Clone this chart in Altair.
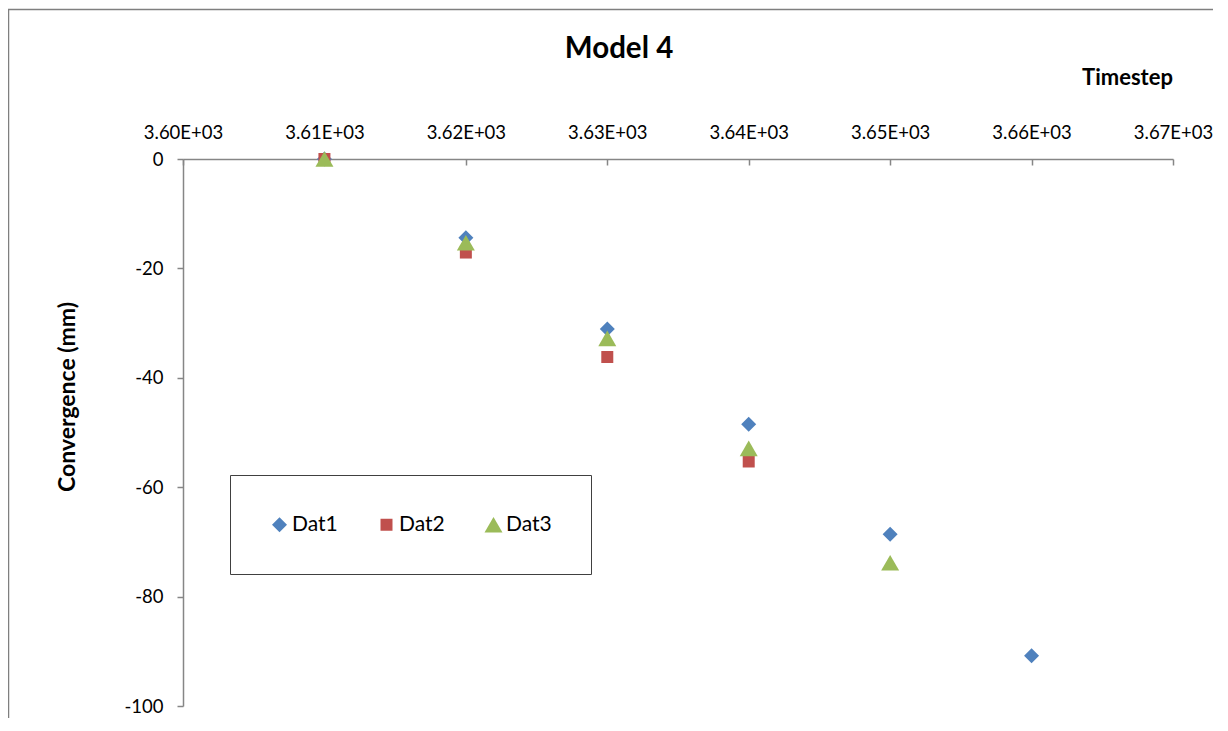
import altair as alt
import pandas as pd

# ---- data ----
timesteps = [3610, 3620, 3630, 3640, 3650, 3660]
dat1 = [0.0, -14.4, -31.1, -48.5, -68.6, -90.8]
dat2 = [0.0, -17.1, -36.2, -55.3]
dat3 = [0.0, -15.3, -32.8, -52.9, -73.8]

series_names = ["Dat1", "Dat2", "Dat3"]
series_colors = ["#4F81BD", "#C0504D", "#9BBB59"]
series_shapes = ["diamond", "square", "triangle-up"]
series_sizes = [225, 144, 324]

x_ticks = [3600, 3610, 3620, 3630, 3640, 3650, 3660, 3670]
y_ticks = [0, -20, -40, -60, -80, -100]

rows = []
for name, vals in zip(series_names, [dat1, dat2, dat3]):
    for t, v in zip(timesteps, vals):
        rows.append({"series": name, "timestep": t, "value": v})
df = pd.DataFrame(rows)

FONT = "Lato"
AXIS_GRAY = "#868686"
W, H = 990, 547

x_scale = alt.Scale(domain=[3600, 3670], nice=False, zero=False)
y_scale = alt.Scale(domain=[-100, 0], nice=False, zero=False)
x_label_expr = "format(datum.value / 1000, '.2f') + 'E+03'"
y_label_expr = "'' + datum.value"

points = alt.Chart(df).mark_point(filled=True, opacity=1).encode(
    x=alt.X("timestep:Q", scale=x_scale,
            axis=alt.Axis(orient="top", values=x_ticks, labelExpr=x_label_expr,
                          grid=False, ticks=False, tickSize=0, labelPadding=17,
                          labelFlush=False, labelOverlap=False,
                          domainColor=AXIS_GRAY, domainWidth=1.5,
                          labelFont=FONT, labelFontSize=18.5, labelColor="#000000",
                          title="Timestep", titleFont=FONT, titleFontSize=22,
                          titleFontWeight="bold", titleColor="#000000",
                          titleX=944, titleY=-82, titleAlign="center",
                          titleBaseline="middle", titleAngle=0)),
    y=alt.Y("value:Q", scale=y_scale,
            axis=alt.Axis(orient="left", values=y_ticks, labelExpr=y_label_expr,
                          grid=False, tickSize=6,
                          labelPadding=14, labelFlush=False, labelOverlap=False,
                          tickColor=AXIS_GRAY, tickWidth=1.5,
                          domainColor=AXIS_GRAY, domainWidth=1.5,
                          labelFont=FONT, labelFontSize=18.5, labelColor="#000000",
                          title="Convergence (mm)", titleFont=FONT, titleFontSize=23,
                          titleFontWeight="bold", titleColor="#000000",
                          titleX=-116, titleY=237.5, titleAngle=270,
                          titleAlign="center", titleBaseline="middle")),
    color=alt.Color("series:N",
                    scale=alt.Scale(domain=series_names, range=series_colors),
                    legend=alt.Legend(orient="none", legendX=47, legendY=316,
                                      direction="horizontal", columns=3,
                                      title=None, padding=39, columnPadding=38,
                                      labelFont=FONT, labelFontSize=21,
                                      labelColor="#000000", labelOffset=2,
                                      strokeColor="#404040", fillColor="#FFFFFF")),
    shape=alt.Shape("series:N",
                    scale=alt.Scale(domain=series_names, range=series_shapes)),
    size=alt.Size("series:N",
                  scale=alt.Scale(type="ordinal", domain=series_names,
                                  range=series_sizes)),
    order=alt.Order("series:N"),
)

tick_axis = alt.Chart(df).mark_point(opacity=0).encode(
    x=alt.X("timestep:Q", scale=x_scale,
            axis=alt.Axis(orient="bottom", offset=-H, values=x_ticks, labels=False,
                          domain=False, grid=False, ticks=True, tickSize=6,
                          tickColor=AXIS_GRAY, tickWidth=1.5, title=None)),
)

frame = alt.Chart(pd.DataFrame({"k": [0]})).mark_rect(
    fill=None, stroke="#7F7F7F", strokeWidth=1.5
).encode(
    x=alt.value(-174.5), x2=alt.value(1200), y=alt.value(-149.5), y2=alt.value(800)
)

chart = alt.layer(frame, points, tick_axis).resolve_axis(x="independent").properties(
    width=W, height=H,
    title=alt.TitleParams("Model 4", font=FONT, fontSize=29.5, fontWeight="bold",
                          color="#000000", anchor="middle", dx=-59, dy=60, offset=4),
    padding={"left": 175, "top": 151, "right": 40, "bottom": 12},
    autosize=alt.AutoSizeParams(type="none"),
).configure_view(stroke=None)

chart.save("out.html", embed_options={"renderer": "svg", "actions": False})
